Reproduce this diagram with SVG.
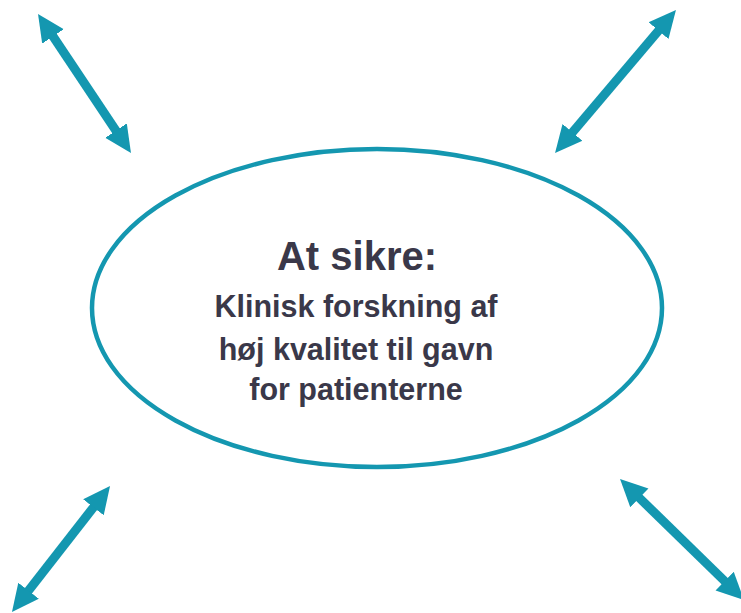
<svg xmlns="http://www.w3.org/2000/svg" width="741" height="613" viewBox="0 0 741 613">
<style>
.conn{stroke:#1497b0;stroke-width:9;fill:none;marker-start:url(#head);marker-end:url(#head)}
.ell{fill:#fff;stroke:#1497b0;stroke-width:4.5}
.t{font-family:"Liberation Sans",Arial,sans-serif;font-weight:bold;fill:#3a3849;text-anchor:middle}
</style>
<defs>
<marker id="head" viewBox="0 -14 28 28" markerWidth="28" markerHeight="28" refX="4" refY="0" markerUnits="userSpaceOnUse" orient="auto-start-reverse">
<path d="M0,-13 L27,0 L0,13 z" fill="#1497b0"/>
</marker>
</defs>
<rect width="741" height="613" fill="#fff"/>
<g id="connectors">
<line class="conn" x1="118.2" y1="133.9" x2="50.8" y2="33.1"/>
<line class="conn" x1="569.9" y1="135.4" x2="661.1" y2="27.6"/>
<line class="conn" x1="95.9" y1="504.2" x2="26.1" y2="593.8"/>
<line class="conn" x1="636.5" y1="495.1" x2="727.5" y2="583.9"/>
</g>
<g id="center">
<ellipse class="ell" cx="377" cy="308" rx="285" ry="159"/>
<text class="t" x="357" y="270" font-size="40">At sikre:</text>
<text class="t" x="356" y="317" font-size="30.5">Klinisk forskning af</text>
<text class="t" x="356" y="360" font-size="30.5">høj kvalitet til gavn</text>
<text class="t" x="356" y="400" font-size="30.5">for patienterne</text>
</g>
</svg>
